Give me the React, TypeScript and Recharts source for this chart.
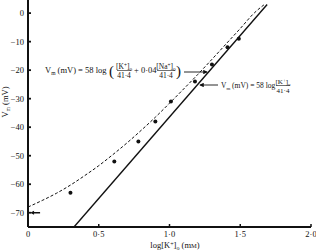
import { ComposedChart, Line, Scatter, XAxis, YAxis } from "recharts"

// measured membrane potentials
const logK = [0.3, 0.61, 0.78, 0.9, 1.01, 1.18, 1.3, 1.41, 1.49]
const vm = [-63, -52, -45, -38, -31, -24, -18, -12, -9]

// resting potential marker (arrow)
const restK = [0.05]
const restV = [-70]

// GHK-type curve (dashed)
const curveK = [0, 0.1, 0.2, 0.3, 0.4, 0.5, 0.6, 0.7, 0.8, 0.9, 1.0, 1.1, 1.2, 1.3, 1.4, 1.5, 1.6, 1.67]
const curveV = [-68, -65.7, -63.2, -60.3, -57, -53.5, -49.6, -45.5, -41.1, -36.5, -31.6, -26.6, -21.5, -16.2, -10.8, -5.4, 0.1, 3]

// Nernst line (solid)
const nernstK = [0.325, 1.69]
const nernstV = [-75, 3]

const xTicks = [0, 0.5, 1, 1.5, 2]
const xTickLabels = ["0", "0·5", "1·0", "1·5", "2·0"]
const yTicks = [-70, -60, -50, -40, -30, -20, -10, 0]

const points = logK.map((x, i) => ({ x, y: vm[i] }))
const rest = restK.map((x, i) => ({ x, y: restV[i] }))
const curve = curveK.map((x, i) => ({ x, y: curveV[i] }))
const nernst = nernstK.map((x, i) => ({ x, y: nernstV[i] }))

const serif = "'Liberation Serif', 'DejaVu Serif', serif"
const ink = "#111"

const XTick = (props: any) => {
  const { x, y, payload } = props
  const i = xTicks.indexOf(payload.value)
  return (
    <g>
      <line x1={x} x2={x} y1={y} y2={y - 3} stroke={ink} strokeWidth={1.5} />
      <text x={x} y={y + 10} textAnchor="middle" fontSize={8.5} fontFamily={serif} fill={ink}>
        {xTickLabels[i]}
      </text>
    </g>
  )
}

const YTick = (props: any) => {
  const { x, y, payload } = props
  const v = payload.value
  return (
    <g>
      <line x1={x} x2={x + 3} y1={y} y2={y} stroke={ink} strokeWidth={1.8} />
      <text x={x - 4} y={y + 3} textAnchor="end" fontSize={8.5} fontFamily={serif} fill={ink}>
        {v < 0 ? "\u2212" + Math.abs(v) : String(v)}
      </text>
    </g>
  )
}

const RestArrow = (props: any) => {
  const { cx, cy } = props
  return (
    <g>
      <line x1={cx - 2} x2={cx + 5} y1={cy} y2={cy} stroke={ink} strokeWidth={1.5} />
      <polygon points={`${cx - 5},${cy} ${cx - 1},${cy - 2} ${cx - 1},${cy + 2}`} fill={ink} />
    </g>
  )
}

const Dot = (props: any) => <circle cx={props.cx} cy={props.cy} r={2} fill={ink} />

// concentration like [K+]o
const Conc = ({ x, y, ion, size }: { x: number; y: number; ion: string; size: number }) => (
  <text x={x} y={y} textAnchor="middle" fontSize={size} fontFamily={serif} fill={ink}>
    [{ion}
    <tspan dy={-2.5} fontSize={size * 0.7}>+</tspan>
    <tspan dy={2.5}>]</tspan>
    <tspan dy={1.5} fontSize={size * 0.7}>o</tspan>
  </text>
)

const Frac = ({ x, y, ion, size, w }: { x: number; y: number; ion: string; size: number; w: number }) => (
  <g>
    <Conc x={x} y={y - 4} ion={ion} size={size} />
    <line x1={x - w / 2} x2={x + w / 2} y1={y - 2.5} y2={y - 2.5} stroke={ink} strokeWidth={0.6} />
    <text x={x} y={y + 5} textAnchor="middle" fontSize={size} fontFamily={serif} fill={ink}>
      41·4
    </text>
  </g>
)

const Vm = ({ x, y, size }: { x: number; y: number; size: number }) => (
  <text x={x} y={y} fontSize={size} fontFamily={serif} fill={ink}>
    V
    <tspan dy={1.5} fontSize={size * 0.65}>m</tspan>
    <tspan dy={-1.5}> (mV) = 58 log</tspan>
  </text>
)

const Annotations = () => (
  <svg width={316} height={251} style={{ position: "absolute", left: 0, top: 0, pointerEvents: "none" }}>
    <defs>
      <marker id="ah" viewBox="0 0 6 6" refX="5" refY="3" markerWidth="5" markerHeight="5" orient="auto">
        <path d="M0,0 L6,3 L0,6 z" fill={ink} />
      </marker>
    </defs>
    {/* y label */}
    <text transform="translate(8,102) rotate(-90)" textAnchor="middle" fontSize={8.5} fontFamily={serif} fill={ink}>
      V<tspan dy={1.5} fontSize={5.5}>m</tspan>
      <tspan dy={-1.5}> (mV)</tspan>
    </text>
    {/* x label */}
    <text x={175} y={248} textAnchor="middle" fontSize={8.5} fontFamily={serif} fill={ink}>
      log[K<tspan dy={-2.5} fontSize={6}>+</tspan>
      <tspan dy={2.5}>]</tspan>
      <tspan dy={1.5} fontSize={6}>o</tspan>
      <tspan dy={-1.5}> (m</tspan>
      <tspan fontSize={6.5}>M</tspan>
      <tspan>)</tspan>
    </text>

    {/* GHK formula */}
    <Vm x={45} y={73} size={8.5} />
    <text x={109} y={76} fontSize={15} fontFamily={serif} fill={ink}>(</text>
    <Frac x={124} y={73} ion="K" size={7.5} w={14} />
    <text x={134} y={73} fontSize={8.5} fontFamily={serif} fill={ink}>+ 0·04</text>
    <Frac x={166} y={73} ion="Na" size={7.5} w={18} />
    <text x={176} y={76} fontSize={15} fontFamily={serif} fill={ink}>)</text>
    <line x1={184} x2={207} y1={72} y2={72} stroke={ink} strokeWidth={0.9} markerEnd="url(#ah)" />

    {/* Nernst formula */}
    <line x1={218} x2={200} y1={85} y2={85} stroke={ink} strokeWidth={0.9} markerEnd="url(#ah)" />
    <Vm x={221} y={88} size={7.5} />
    <Frac x={283} y={88} ion="K" size={7} w={14} />
  </svg>
)

export default function App() {
  return (
    <div style={{ position: "absolute", left: 0, top: 0, width: 316, height: 251, background: "#fff" }}>
      <ComposedChart width={316} height={251} margin={{ top: 0, right: 5, bottom: 0, left: 0 }}>
        <XAxis
          type="number"
          dataKey="x"
          domain={[0, 2]}
          ticks={xTicks}
          height={24}
          tickSize={0}
          tickMargin={0}
          tickLine={false}
          tick={<XTick />}
          axisLine={{ stroke: ink, strokeWidth: 2 }}
          allowDataOverflow
        />
        <YAxis
          type="number"
          dataKey="y"
          domain={[-75, 4.6]}
          ticks={yTicks}
          width={28}
          tickSize={0}
          tickMargin={0}
          tickLine={false}
          tick={<YTick />}
          axisLine={{ stroke: ink, strokeWidth: 2 }}
          allowDataOverflow
        />
        <Line
          data={curve}
          dataKey="y"
          type="monotone"
          stroke={ink}
          strokeWidth={1}
          strokeDasharray="3 2"
          dot={false}
          isAnimationActive={false}
        />
        <Line
          data={nernst}
          dataKey="y"
          type="linear"
          stroke={ink}
          strokeWidth={1.4}
          dot={false}
          isAnimationActive={false}
        />
        <Scatter data={points} dataKey="y" shape={<Dot />} isAnimationActive={false} />
        <Scatter data={rest} dataKey="y" shape={<RestArrow />} isAnimationActive={false} />
      </ComposedChart>
      <Annotations />
    </div>
  )
}
